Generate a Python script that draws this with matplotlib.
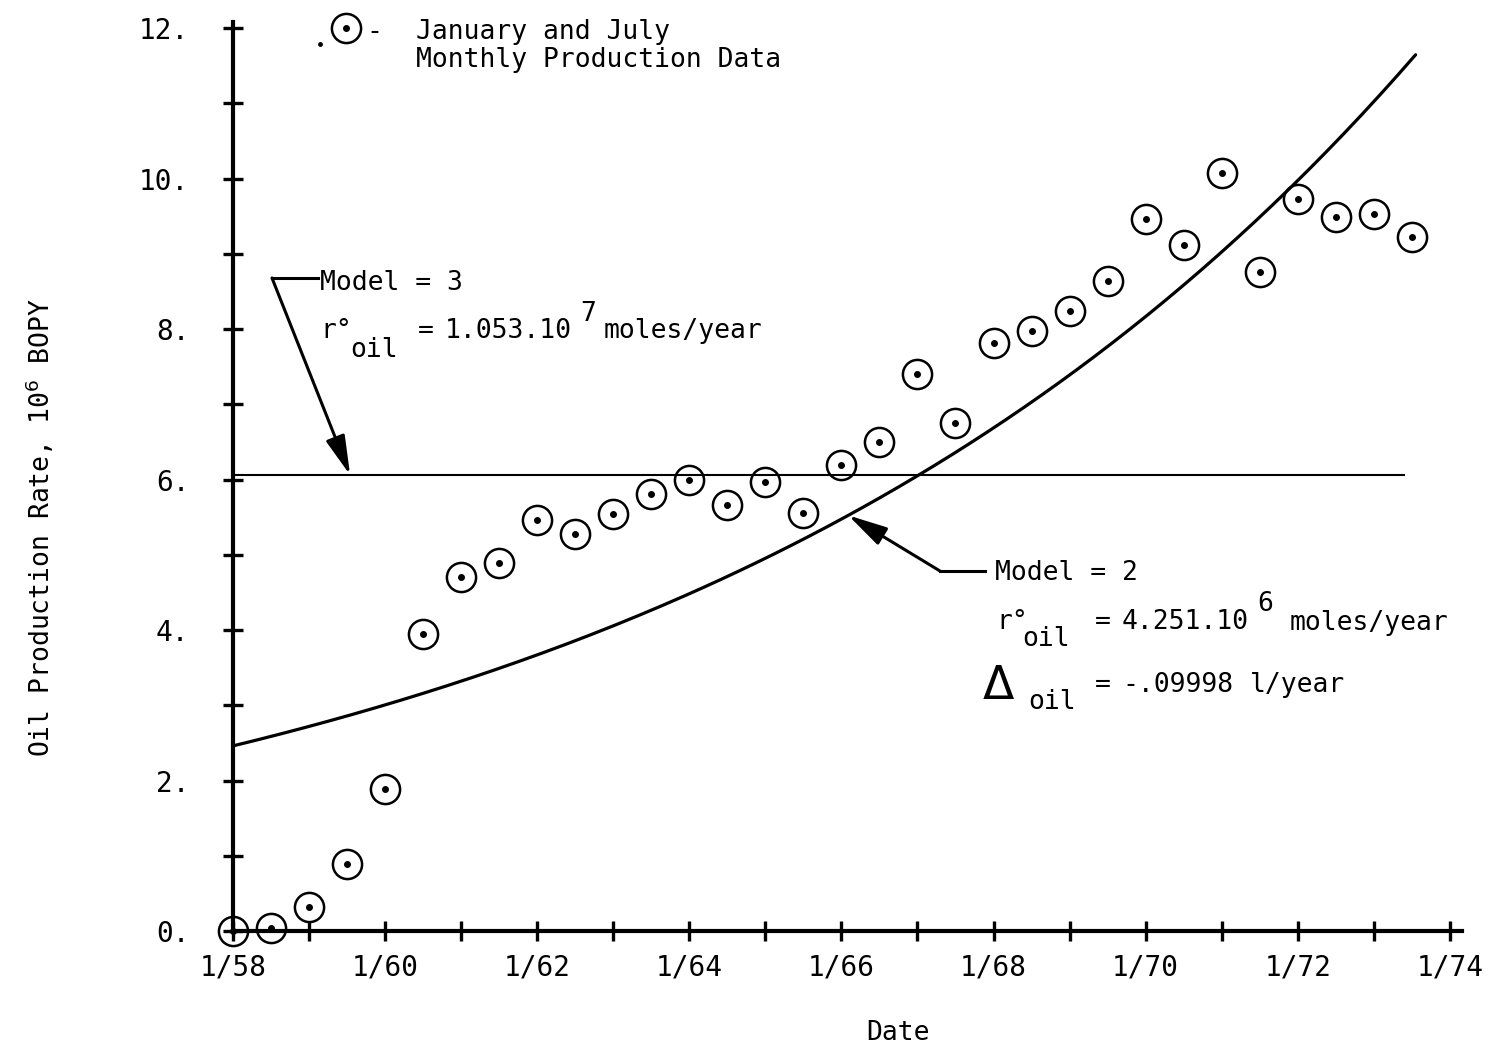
import numpy as np
import matplotlib.pyplot as plt

plt.rcParams['font.family'] = ['DejaVu Sans Mono', 'DejaVu Sans']
plt.rcParams['font.size'] = 19

# January and July monthly production, 10^6 BOPY
prod_year = [1958.0, 1958.5, 1959.0, 1959.5, 1960.0, 1960.5, 1961.0, 1961.5,
             1962.0, 1962.5, 1963.0, 1963.5, 1964.0, 1964.5, 1965.0, 1965.5,
             1966.0, 1966.5, 1967.0, 1967.5, 1968.0, 1968.5, 1969.0, 1969.5,
             1970.0, 1970.5, 1971.0, 1971.5, 1972.0, 1972.5, 1973.0, 1973.5]
prod_rate = [0.0, 0.04, 0.32, 0.89, 1.89, 3.95, 4.70, 4.89,
             5.46, 5.28, 5.54, 5.81, 5.99, 5.66, 5.97, 5.55,
             6.19, 6.50, 7.40, 6.75, 7.81, 7.97, 8.24, 8.64,
             9.46, 9.12, 10.07, 8.76, 9.73, 9.49, 9.53, 9.22]

# model 2: exponential, rate at 1/58 and decline constant
model2_start = 2.46
model2_delta = -0.09998
model2_span = (1958.0, 1973.55)

# model 3: constant rate
model3_rate = 6.06
model3_span = (1958.0, 1973.41)

year_ticks = [1958, 1960, 1962, 1964, 1966, 1968, 1970, 1972, 1974]
year_labels = ["1/58", "1/60", "1/62", "1/64", "1/66", "1/68", "1/70", "1/72", "1/74"]
rate_ticks = [0, 2, 4, 6, 8, 10, 12]
rate_labels = ["0.", "2.", "4.", "6.", "8.", "10.", "12."]

W, H = 1502, 1051


def fp(x, y):
    # pixel position -> figure fraction
    return (x / W, 1 - y / H)


def put(x, y, s, **kw):
    fig.text(*fp(x, y), s, ha="left", va="baseline", **kw)


fig = plt.figure(figsize=(W / 100, H / 100), dpi=100)
ax = fig.add_axes([233 / W, 1 - 931 / H, (1462 - 233) / W, (931 - 22) / H])
ax.set_xlim(1958, 1974.16)
ax.set_ylim(0, 12.08)

for s in ("top", "right"):
    ax.spines[s].set_visible(False)
for s in ("left", "bottom"):
    ax.spines[s].set_linewidth(3)

ax.set_xticks(year_ticks)
ax.set_xticklabels(year_labels)
ax.set_xticks(range(1959, 1974, 2), minor=True)
ax.set_yticks(rate_ticks)
ax.set_yticklabels(rate_labels)
ax.set_yticks(range(1, 12, 2), minor=True)
ax.tick_params(axis="both", which="both", direction="inout", length=15, width=2.4,
               labelsize=20)
ax.tick_params(axis="x", which="major", pad=9)
ax.tick_params(axis="y", which="major", pad=24)

# model lines
ax.plot(model3_span, [model3_rate, model3_rate], color="black", lw=1.5,
        solid_capstyle="butt")
t = np.linspace(*model2_span, 200)
q2 = model2_start * np.exp(-model2_delta * (t - model2_span[0]))
ax.plot(t, q2, color="black", lw=2.3, solid_capstyle="round")

# production data: circle with centre dot
ax.plot(prod_year, prod_rate, ls="none", marker="o", ms=21, mfc="none",
        mec="black", mew=1.8, clip_on=False, zorder=4)
ax.plot(prod_year, prod_rate, ls="none", marker="o", ms=4, color="black",
        clip_on=False, zorder=4)

# legend entry
ax.plot([1959.48], [12.0], ls="none", marker="o", ms=21, mfc="none", mec="black",
        mew=1.8, clip_on=False)
ax.plot([1959.48], [12.0], ls="none", marker="o", ms=4, color="black", clip_on=False)
ax.plot([1959.14], [11.79], ls="none", marker="o", ms=2.5, color="black", clip_on=False)
put(366, 39, "-")
put(416, 39, "January and July")
put(416, 67, "Monthly Production Data")

arrow = dict(arrowstyle="-|>,head_length=1.6,head_width=0.4", color="black",
             lw=2.2, shrinkA=0, shrinkB=0, mutation_scale=15)

# model 3 callout
fig.add_artist(plt.Line2D([272 / W, 318 / W], [1 - 278 / H, 1 - 278 / H],
                          color="black", lw=2.2))
ax.annotate("", xy=(1959.54, model3_rate), xycoords="data",
            xytext=fp(272, 278), textcoords="figure fraction", arrowprops=arrow)
put(320, 290, "Model = 3")
put(320, 338, "r°")
put(350, 357, "oil")
put(418, 338, "=")
put(445, 338, "1.053.10")
put(580, 321, "7")
put(604, 338, "moles/year")

# model 2 callout
tip_year = 1966.09
tip_rate = model2_start * np.exp(-model2_delta * (tip_year - model2_span[0]))
fig.add_artist(plt.Line2D([940 / W, 985 / W], [1 - 571 / H, 1 - 571 / H],
                          color="black", lw=2.2))
ax.annotate("", xy=(tip_year, tip_rate), xycoords="data",
            xytext=fp(940, 571), textcoords="figure fraction", arrowprops=arrow)
put(995, 580, "Model = 2")
put(996, 629, "r°")
put(1022, 646, "oil")
put(1095, 629, "=")
put(1122, 629, "4.251.10")
put(1257, 611, "6")
put(1290, 630, "moles/year")
put(983, 699, "Δ", fontsize=33, family="DejaVu Sans")
put(1028, 709, "oil")
put(1095, 692, "=")
put(1122, 692, "-.09998")
put(1250, 692, "l/year")

# axis titles
fig.text(*fp(40, 528), "Oil Production Rate, 10$^6$ BOPY", rotation=90,
         ha="center", va="center")
fig.text(*fp(898, 1033), "Date", ha="center", va="center")

fig.savefig("out.png", dpi=100)
